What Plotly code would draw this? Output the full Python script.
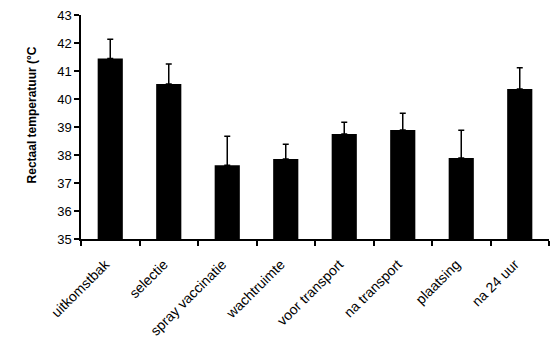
import plotly.graph_objects as go

categories = ["uitkomstbak", "selectie", "spray vaccinatie", "wachtruimte",
              "voor transport", "na transport", "plaatsing", "na 24 uur"]
means = [41.45, 40.54, 37.63, 37.86, 38.75, 38.89, 37.89, 40.36]
errors = [0.68, 0.71, 1.04, 0.52, 0.42, 0.60, 0.99, 0.76]
ytick_vals = [35, 36, 37, 38, 39, 40, 41, 42, 43]

W, H = 552, 344
L, R, T, B = 80.7, 2.7, 15.3, 105

fig = go.Figure(go.Bar(
    x=categories, y=means, width=0.43,
    marker=dict(color="black", line=dict(width=0)),
    error_y=dict(type="data", symmetric=False, array=errors,
                 arrayminus=[0] * len(errors), color="black",
                 thickness=1.5, width=3),
))

fig.update_layout(
    width=W, height=H, margin=dict(l=L, r=R, t=T, b=B),
    paper_bgcolor="white", plot_bgcolor="white",
    font=dict(family="Liberation Sans, Arial, sans-serif", color="black"),
    showlegend=False, bargap=0.57,
)
fig.update_xaxes(
    showline=True, linecolor="black", linewidth=1.5,
    ticks="outside", tickson="boundaries", ticklen=5, tickcolor="black",
    tickwidth=1.5, tickangle=-45, tickfont=dict(size=14),
    ticklabelstandoff=10, ticklabelshift=-5, showgrid=False,
)
fig.update_yaxes(
    range=[35, 43], tickvals=ytick_vals, showline=True, linecolor="black",
    linewidth=1.5, ticks="outside", ticklen=5, tickcolor="black", tickwidth=1.5,
    tickfont=dict(size=13), showgrid=False, zeroline=False,
)
pw = W - L - R
ph = H - T - B
fig.add_annotation(
    text="<b>Rectaal temperatuur (°C</b>", textangle=-90,
    xref="paper", yref="paper",
    x=(22.7 - L) / pw, y=(H - B - 115.5) / ph,
    showarrow=False, font=dict(size=12),
)
fig.write_html("out.html")
